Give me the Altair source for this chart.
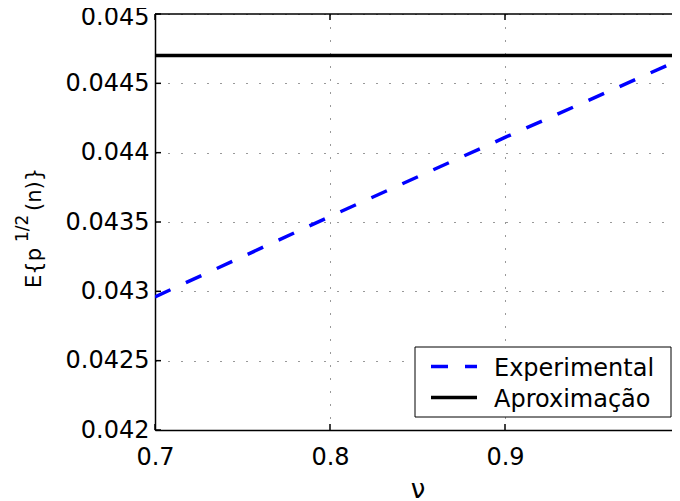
import altair as alt
import pandas as pd

# ---- data ----
nu_exp = [0.7, 0.8, 0.9, 1.0]
val_exp = [0.04296, 0.04354, 0.04411, 0.04467]
nu_apx = [0.7, 1.0]
val_apx = [0.0447, 0.0447]
series_names = ["Experimental", "Aproximação"]
series_colors = ["#0000ff", "#000000"]
series_dash = [[17, 17], [1, 0]]
x_ticks = [0.7, 0.8, 0.9, 1.0]
y_ticks = [0.042, 0.0425, 0.043, 0.0435, 0.044, 0.0445, 0.045]

df = pd.DataFrame({
    "nu": nu_exp + nu_apx,
    "val": val_exp + val_apx,
    "series": [series_names[0]] * len(nu_exp) + [series_names[1]] * len(nu_apx),
})
xt = pd.DataFrame({"nu": x_ticks})
yt = pd.DataFrame({"val": y_ticks})
one = pd.DataFrame({"a": [0]})

W, H = 525, 416
FONT = "DejaVu Sans"

xs = alt.Scale(domain=[0.7, 1.0], nice=False, zero=False)
ys = alt.Scale(domain=[0.042, 0.045], nice=False, zero=False)

x_axis = alt.Axis(values=x_ticks, format="~g", title="ν", grid=True,
                  labelPadding=15, labelFlush=False, labelOverlap=False,
                  titleBaseline="alphabetic", titleY=67,
                  titleFont=FONT, titleFontSize=26, titleFontWeight="normal",
                  titleColor="black")
y_axis = alt.Axis(values=y_ticks, format="~g", title=None, grid=True,
                  labelPadding=6, labelOverlap=False, labelFlush=False,
                  labelOffset={"condition": {"test": "datum.value >= 0.0449", "value": 3},
                               "value": 0})

X = lambda: alt.X("nu:Q", scale=xs, axis=x_axis)
Y = lambda: alt.Y("val:Q", scale=ys, axis=y_axis)

lines = alt.Chart(df).mark_line(strokeWidth=3.5, clip=True).encode(
    x=X(), y=Y(),
    color=alt.Color("series:N",
                    scale=alt.Scale(domain=series_names, range=series_colors),
                    legend=None),
    strokeDash=alt.StrokeDash("series:N",
                              scale=alt.Scale(domain=series_names, range=series_dash),
                              legend=None),
)

tick_y_left = alt.Chart(yt).mark_rule(color="black", strokeWidth=1.5).encode(
    y=Y(), x=alt.value(0), x2=alt.value(6))
tick_x_bottom = alt.Chart(xt).mark_rule(color="black", strokeWidth=1.5).encode(
    x=X(), y=alt.value(H), y2=alt.value(H - 6))
tick_x_top = alt.Chart(xt).mark_rule(color="black", strokeWidth=1.5).encode(
    x=X(), y=alt.value(0), y2=alt.value(6))
top_frame = alt.Chart(one).mark_rule(color="black", strokeWidth=1.5).encode(
    x=alt.value(0), x2=alt.value("width"), y=alt.value(0))

# y-axis title with superscript
t_main1 = alt.Chart(one).mark_text(angle=270, align="left", baseline="alphabetic",
                                   font=FONT, fontSize=21, color="black").encode(
    x=alt.value(-114), y=alt.value(274), text=alt.value("E{p"))
t_sup = alt.Chart(one).mark_text(angle=270, align="left", baseline="alphabetic",
                                 font=FONT, fontSize=17, color="black").encode(
    x=alt.value(-127), y=alt.value(228), text=alt.value("1/2"))
t_main2 = alt.Chart(one).mark_text(angle=270, align="left", baseline="alphabetic",
                                   font=FONT, fontSize=21, color="black").encode(
    x=alt.value(-114), y=alt.value(197), text=alt.value("(n)}"))

# legend box (MATLAB style)
leg_box = alt.Chart(one).mark_rect(fill="white", stroke="black", strokeWidth=1).encode(
    x=alt.value(260), x2=alt.value(516), y=alt.value(333), y2=alt.value(403))
leg_rows = [352.5, 383.5]
leg_layers = []
for name, col, dash, yy in zip(series_names, series_colors, series_dash, leg_rows):
    leg_layers.append(
        alt.Chart(one).mark_rule(color=col, strokeWidth=3.5, strokeDash=dash).encode(
            x=alt.value(276), x2=alt.value(322), y=alt.value(yy)))
    leg_layers.append(
        alt.Chart(one).mark_text(align="left", baseline="alphabetic", font=FONT,
                                 fontSize=24, color="black").encode(
            x=alt.value(339), y=alt.value(yy + 9.5), text=alt.value(name)))

chart = alt.layer(
    lines, tick_y_left, tick_x_bottom, tick_x_top, top_frame,
    t_main1, t_sup, t_main2, leg_box, *leg_layers
).properties(
    width=W, height=H,
    padding={"left": 147, "top": 6, "right": -8, "bottom": 71},
    autosize=alt.AutoSizeParams(type="none"),
).configure_view(stroke=None).configure_axis(
    labelFont=FONT, labelFontSize=24, labelColor="black",
    domainColor="black", domainWidth=1.5,
    ticks=False, tickSize=0,
    gridColor="#333333", gridDash=[1, 12], gridWidth=1, gridOpacity=1,
)

chart.save("out.html", embed_options={"renderer": "svg", "actions": False})
